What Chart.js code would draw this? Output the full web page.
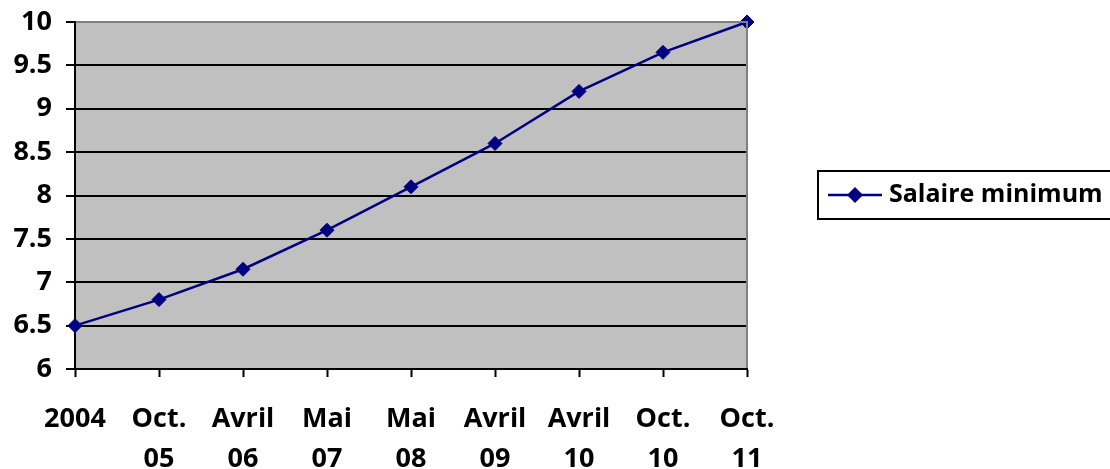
<!DOCTYPE html>
<html>
<head>
<meta charset="utf-8">
<script src="https://cdn.jsdelivr.net/npm/chart.js@4/dist/chart.umd.min.js"></script>
<style>
html,body{margin:0;padding:0;background:#fff;}
#wrap{width:1110px;height:469px;position:relative;overflow:hidden;}
</style>
</head>
<body>
<div id="wrap"><canvas id="c" width="1110" height="469"></canvas></div>
<script>
const categories = [["2004"], ["Oct.", "05"], ["Avril", "06"], ["Mai", "07"], ["Mai", "08"], ["Avril", "09"], ["Avril", "10"], ["Oct.", "10"], ["Oct.", "11"]];
const seriesName = "Salaire minimum";
const salaireMinimum = [6.5, 6.8, 7.15, 7.6, 8.1, 8.6, 9.2, 9.65, 10];
const yTicks = [6, 6.5, 7, 7.5, 8, 8.5, 9, 9.5, 10];

const FONT = "'Open Sans', 'Liberation Sans', sans-serif";
const NAVY = '#000080';

const plotBg = {
  id: 'plotBg',
  beforeDraw(chart) {
    const {ctx, chartArea: a} = chart;
    ctx.save();
    ctx.fillStyle = '#C0C0C0';
    ctx.fillRect(a.left, a.top, a.right - a.left, a.bottom - a.top);
    ctx.restore();
  },
  afterDatasetsDraw(chart) {
    const {ctx, chartArea: a} = chart;
    ctx.save();
    ctx.strokeStyle = '#808080';
    ctx.lineWidth = 2;
    ctx.beginPath();
    ctx.moveTo(a.left + 1, a.top);
    ctx.lineTo(a.right, a.top);
    ctx.lineTo(a.right, a.bottom - 1);
    ctx.stroke();
    ctx.restore();
  }
};

const sideLegend = {
  id: 'sideLegend',
  afterDraw(chart) {
    const {ctx} = chart;
    const ds = chart.data.datasets[0];
    ctx.save();
    ctx.strokeStyle = '#000';
    ctx.lineWidth = 2;
    ctx.strokeRect(818, 171, 400, 48);
    ctx.strokeStyle = NAVY;
    ctx.lineWidth = 2.5;
    ctx.beginPath();
    ctx.moveTo(828, 195);
    ctx.lineTo(882, 195);
    ctx.stroke();
    ctx.fillStyle = NAVY;
    ctx.beginPath();
    ctx.moveTo(847, 195); ctx.lineTo(855, 187); ctx.lineTo(863, 195); ctx.lineTo(855, 203);
    ctx.closePath();
    ctx.fill();
    ctx.fillStyle = '#000';
    ctx.font = "bold 25px " + FONT;
    ctx.textBaseline = 'middle';
    ctx.textAlign = 'left';
    ctx.fillText(ds.label, 889, 195);
    ctx.restore();
  }
};

new Chart(document.getElementById('c'), {
  type: 'line',
  data: {
    labels: categories,
    datasets: [{
      label: seriesName,
      data: salaireMinimum,
      borderColor: NAVY,
      backgroundColor: NAVY,
      borderWidth: 2.5,
      pointStyle: 'rectRot',
      pointRadius: 7,
      pointBorderWidth: 1,
      pointBackgroundColor: NAVY,
      pointBorderColor: NAVY,
      tension: 0,
      clip: false
    }]
  },
  options: {
    responsive: false,
    animation: false,
    layout: {padding: {top: 22, right: 363, left: 0, bottom: 0}},
    plugins: {legend: {display: false}, tooltip: {enabled: false}},
    scales: {
      x: {
        offset: false,
        afterFit(scale) { scale.height = 100; },
        grid: {drawOnChartArea: false, drawTicks: true, tickLength: 8, tickColor: '#000', tickWidth: 2},
        border: {color: '#000', width: 2},
        ticks: {
          autoSkip: false, maxRotation: 0, minRotation: 0, color: '#000', padding: 22,
          font: {family: FONT, size: 27, weight: 'bold', lineHeight: 1.5}
        }
      },
      y: {
        min: 6, max: 10,
        afterFit(scale) { scale.width = 75; scale.paddingTop = 0; scale.paddingBottom = 0; },
        afterBuildTicks(scale) { scale.ticks = yTicks.map(v => ({value: v})); },
        grid: {
          color: ctx => (ctx.tick && ctx.tick.value === 10) ? '#808080' : '#000',
          lineWidth: 2, tickLength: 9, tickColor: '#000', tickWidth: 2
        },
        border: {color: '#000', width: 2},
        ticks: {
          color: '#000', padding: 14,
          font: {family: FONT, size: 27, weight: 'bold'},
          callback: v => String(v)
        }
      }
    }
  },
  plugins: [plotBg, sideLegend]
});
</script>
</body>
</html>
